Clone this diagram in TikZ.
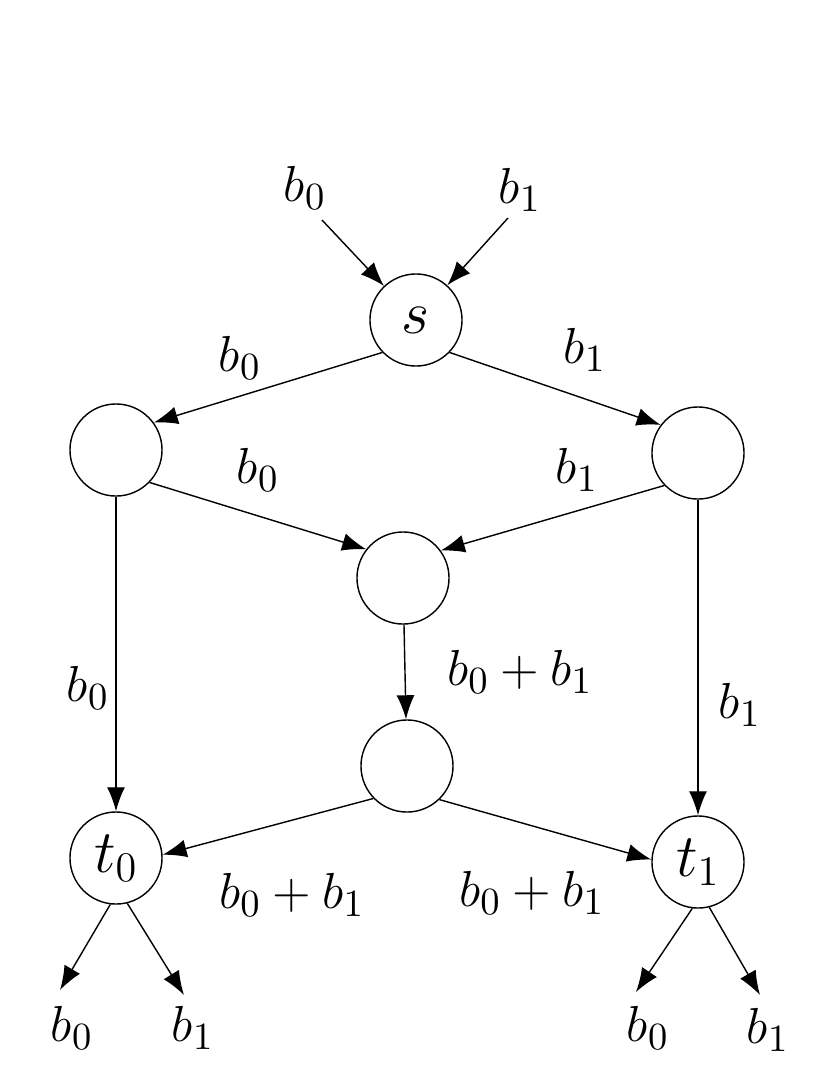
\documentclass[tikz,border=0pt]{standalone}
\usetikzlibrary{arrows.meta}
\begin{document}
\begin{tikzpicture}[x=0.01cm,y=-0.01cm,
    vertex/.style={draw,circle,minimum size=0.92cm,inner sep=0pt,font=\fontsize{17}{20}\selectfont},
    lbl/.style={font=\fontsize{15}{18}\selectfont},
    flow/.style={-{Latex[length=2.4mm,width=1.8mm]}}]
        \useasboundingbox (0,0) rectangle (830,1075);
        % vertices
        \node[vertex] (s) at (416,320) {$s$};
        \node[vertex] (l) at (116,450) {};
        \node[vertex] (r) at (698,453) {};
        \node[vertex] (m) at (403,578) {};
        \node[vertex] (n) at (407,766) {};
        \node[vertex] (t0) at (116,858) {$t_0$};
        \node[vertex] (t1) at (698,862) {$t_1$};
        % free ends
        \coordinate (in0) at (322,220);
        \coordinate (in1) at (508,218);
        \coordinate (o00) at (60,990);
        \coordinate (o01) at (184,995);
        \coordinate (o10) at (636,992);
        \coordinate (o11) at (760,995);
        % edges
        \draw[flow] (in0) -- (s);
        \draw[flow] (in1) -- (s);
        \draw[flow] (s.224) -- (l.36);
        \draw[flow] (s.316) -- (r.143);
        \draw[flow] (l.316) -- (m.142);
        \draw[flow] (r.224) -- (m.36);
        \draw[flow] (l) -- (t0);
        \draw[flow] (r) -- (t1);
        \draw[flow] (m) -- (n);
        \draw[flow] (n.224) -- (t0.4);
        \draw[flow] (n.314) -- (t1.177);
        \draw[flow] (t0.263) -- (o00);
        \draw[flow] (t0.284) -- (o01);
        \draw[flow] (t1.263) -- (o10);
        \draw[flow] (t1.284) -- (o11);
        % labels
        \node[lbl] (a1) at (305,188) {$b_0$};
        \node[lbl] (a2) at (520,190) {$b_1$};
        \node[lbl] (a3) at (240,358) {$b_0$};
        \node[lbl] (a4) at (585,350) {$b_1$};
        \node[lbl] (a5) at (258,470) {$b_0$};
        \node[lbl] (a6) at (577,470) {$b_1$};
        \node[lbl] (a7) at (88,688) {$b_0$};
        \node[lbl] (a8) at (520,672) {$b_0+b_1$};
        \node[lbl] (a9) at (740,705) {$b_1$};
        \node[lbl] (a10) at (292,895) {$b_0+b_1$};
        \node[lbl] (a11) at (532,893) {$b_0+b_1$};
        \node[lbl] (a12) at (72,1028) {$b_0$};
        \node[lbl] (a13) at (193,1028) {$b_1$};
        \node[lbl] (a14) at (648,1028) {$b_0$};
        \node[lbl] (a15) at (768,1030) {$b_1$};
\end{tikzpicture}
\end{document}
